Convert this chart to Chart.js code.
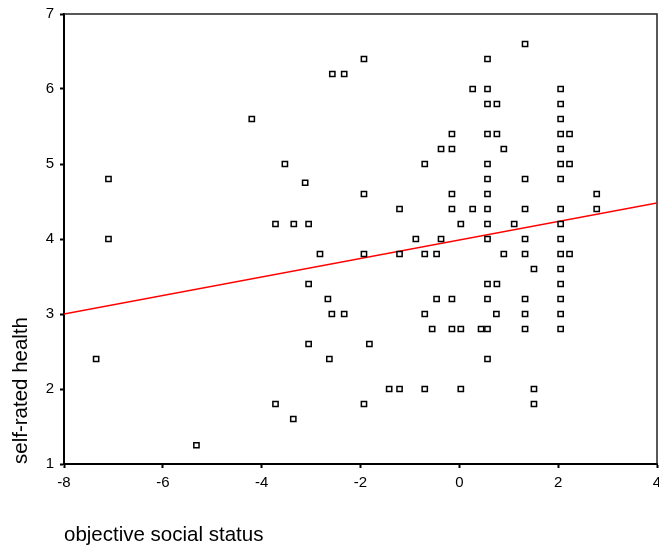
<!DOCTYPE html>
<html>
<head>
<meta charset="utf-8">
<script src="https://cdn.jsdelivr.net/npm/chart.js@4"></script>
<style>
  body { margin: 0; background: #fff; }
  #wrap { width: 659px; height: 546px; }
</style>
</head>
<body>
<div id="wrap"><canvas id="scatter" width="659" height="546"></canvas></div>
<script>
// objective social status (x) and self-rated health (y), one entry per case
var statusX = [
  -7.1, -7.1, -7.35, -5.32, -4.2, -3.72, -3.36, -3.53, -3.12, -3.72,
  -3.35, -3.05, -2.82, -3.05, -3.05, -2.66, -2.58, -2.33, -2.63, -2.57,
  -2.33, -1.93, -1.93, -1.93, -1.93, -1.82, -1.42, -1.21, -1.21, -1.21,
  -0.88, -0.7, -0.7, -0.7, -0.7, -0.55, -0.46, -0.46, -0.37, -0.37,
  -0.15, -0.15, -0.15, -0.15, -0.15, -0.15, 0.03, 0.03, 0.03, 0.27,
  0.27, 0.44, 0.57, 0.57, 0.57, 0.57, 0.57, 0.57, 0.57, 0.57,
  0.57, 0.57, 0.57, 0.57, 0.57, 0.57, 0.76, 0.76, 0.76, 0.75,
  0.9, 0.9, 1.11, 1.33, 1.33, 1.33, 1.33, 1.33, 1.33, 1.33,
  1.33, 1.51, 1.51, 1.51,
  2.05, 2.05, 2.05, 2.05, 2.05, 2.05, 2.05, 2.05, 2.05, 2.05,
  2.05, 2.05, 2.05, 2.05, 2.05, 2.05,
  2.23, 2.23, 2.23, 2.78, 2.78
];
var healthY = [
  4.8, 4.0, 2.4, 1.25, 5.6, 1.8, 1.6, 5.0, 4.75, 4.2,
  4.2, 4.2, 3.8, 3.4, 2.6, 3.2, 3.0, 3.0, 2.4, 6.2,
  6.2, 6.4, 4.6, 3.8, 1.8, 2.6, 2.0, 2.0, 4.4, 3.8,
  4.0, 5.0, 3.8, 3.0, 2.0, 2.8, 3.8, 3.2, 5.2, 4.0,
  5.4, 5.2, 4.6, 4.4, 3.2, 2.8, 4.2, 2.8, 2.0, 6.0,
  4.4, 2.8, 6.4, 6.0, 5.8, 5.4, 5.0, 4.8, 4.6, 4.4,
  4.2, 4.0, 3.4, 3.2, 2.8, 2.4, 5.8, 5.4, 3.4, 3.0,
  5.2, 3.8, 4.2, 6.6, 4.8, 4.4, 4.0, 3.8, 3.2, 3.0,
  2.8, 3.6, 2.0, 1.8,
  6.0, 5.8, 5.6, 5.4, 5.2, 5.0, 4.8, 4.4, 4.2, 4.0,
  3.8, 3.6, 3.4, 3.2, 3.0, 2.8,
  5.4, 5.0, 3.8, 4.6, 4.4
];

// fitted regression line, read at the two edges of the plot
var fitX = [-8, 4];
var fitY = [3.0, 4.48];

var xTicks = [-8, -6, -4, -2, 0, 2, 4];
var yTicks = [1, 2, 3, 4, 5, 6, 7];

var points = statusX.map(function (x, i) { return { x: x, y: healthY[i] }; });
var fitLine = fitX.map(function (x, i) { return { x: x, y: fitY[i] }; });

var FONT = '"Liberation Sans", Arial, sans-serif';
var PLOT_RIGHT = 657;

// let the plot run to the right edge; the "4" label is allowed to be cut off
var edgePlugin = {
  id: 'edge',
  afterLayout: function (chart) {
    var a = chart.chartArea, x = chart.scales.x;
    a.right = PLOT_RIGHT;
    a.width = a.right - a.left;
    x.right = PLOT_RIGHT;
    x.width = x.right - x.left;
    x.configure();
  }
};

// thin frame on the top and right of the plot area
var framePlugin = {
  id: 'frame',
  beforeDatasetsDraw: function (chart) {
    var a = chart.chartArea, ctx = chart.ctx;
    ctx.save();
    ctx.strokeStyle = '#222';
    ctx.lineWidth = 1.5;
    ctx.beginPath();
    ctx.moveTo(a.left, a.top);
    ctx.lineTo(a.right, a.top);
    ctx.lineTo(a.right, a.bottom);
    ctx.stroke();
    ctx.restore();
  }
};

new Chart(document.getElementById('scatter').getContext('2d'), {
  type: 'scatter',
  data: {
    datasets: [{
      data: points,
      pointStyle: 'rect',
      pointRadius: 3.7,
      pointBorderWidth: 1.5,
      pointBorderColor: '#000',
      pointBackgroundColor: '#fff',
      order: 1
    }, {
      data: fitLine,
      showLine: true,
      borderColor: '#ff0000',
      borderWidth: 1.5,
      pointRadius: 0,
      order: 2
    }]
  },
  options: {
    responsive: false,
    animation: false,
    devicePixelRatio: 1,
    layout: { padding: { top: 14, right: 0, left: 0, bottom: 0 } },
    plugins: { legend: { display: false }, tooltip: { enabled: false } },
    scales: {
      x: {
        type: 'linear',
        min: xTicks[0],
        max: xTicks[xTicks.length - 1],
        afterBuildTicks: function (s) { s.ticks = xTicks.map(function (v) { return { value: v }; }); },
        ticks: { color: '#000', font: { family: FONT, size: 15 }, padding: 6, maxRotation: 0 },
        grid: { drawOnChartArea: false, drawTicks: true, tickLength: 4, tickWidth: 2, color: '#000' },
        border: { display: true, color: '#000', width: 2 },
        title: {
          display: true, text: 'objective social status', align: 'start', color: '#000',
          font: { family: FONT, size: 20.5 }, padding: { top: 0, bottom: -2 }
        },
        afterFit: function (s) { s.height = 82; }
      },
      y: {
        type: 'linear',
        min: yTicks[0],
        max: yTicks[yTicks.length - 1],
        afterBuildTicks: function (s) { s.ticks = yTicks.map(function (v) { return { value: v }; }); },
        ticks: { color: '#000', font: { family: FONT, size: 15 }, padding: 6 },
        grid: { drawOnChartArea: false, drawTicks: true, tickLength: 4, tickWidth: 2, color: '#000' },
        border: { display: true, color: '#000', width: 2 },
        title: {
          display: true, text: 'self-rated health', align: 'start', color: '#000',
          font: { family: FONT, size: 20.5 }, padding: { top: 9, bottom: 0 }
        },
        afterFit: function (s) { s.width = 64; s.paddingTop = 0; s.paddingBottom = 0; }
      }
    }
  },
  plugins: [edgePlugin, framePlugin]
});
</script>
</body>
</html>
